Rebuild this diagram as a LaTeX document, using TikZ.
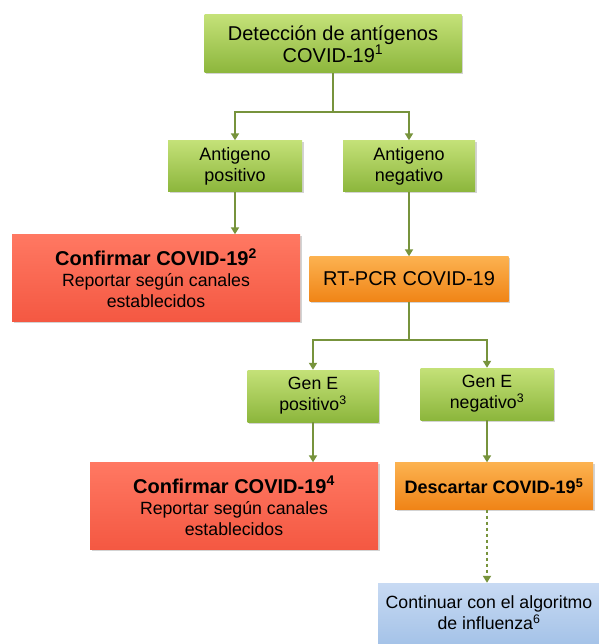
\documentclass[tikz,border=0pt]{standalone}
\usepackage{fontspec}
\setmainfont{Liberation Sans}
\usetikzlibrary{shadows,arrows.meta}

\definecolor{olivelink}{RGB}{119,147,60}

\newcommand{\bigtext}{\fontsize{20}{22}\selectfont}
\newcommand{\midtext}{\fontsize{18}{21}\selectfont}

\tikzset{
  box/.style={rectangle, align=center, inner sep=0pt, text=black,
    font=\fontsize{17.7}{21}\selectfont,
    drop shadow={shadow xshift=1.5pt, shadow yshift=-1.5pt, opacity=0.35}},
  greenbox/.style={box, top color={rgb,255:red,196;green,225;blue,120},
    bottom color={rgb,255:red,140;green,182;blue,60}},
  redbox/.style={box, top color={rgb,255:red,255;green,120;blue,98},
    bottom color={rgb,255:red,244;green,88;blue,66}},
  orangebox/.style={box, top color={rgb,255:red,252;green,178;blue,80},
    bottom color={rgb,255:red,240;green,132;blue,22}},
  bluebox/.style={box, top color={rgb,255:red,200;green,218;blue,243},
    bottom color={rgb,255:red,165;green,195;blue,232}},
  link/.style={draw=olivelink, line width=1.8pt, -{Triangle[length=7pt,width=8pt]}},
  plain/.style={draw=olivelink, line width=1.8pt}
}

\begin{document}
\begin{tikzpicture}[x=1pt, y=-1pt]

  \useasboundingbox (0,0) rectangle (598,644);

  \node[greenbox, minimum width=257pt, minimum height=58pt, font=\bigtext] (detect) at (333,44)
    {Detección de antígenos\\COVID-19\textsuperscript{1}};
  \node[greenbox, minimum width=134pt, minimum height=51pt, font=\midtext] (agpos) at (235,166)
    {Antigeno\\positivo};
  \node[greenbox, minimum width=132pt, minimum height=51pt, font=\midtext] (agneg) at (409,166)
    {Antigeno\\negativo};
  \node[redbox, minimum width=288pt, minimum height=87pt] (confirm1) at (156,278)
    {{\bigtext\bfseries Confirmar COVID-19\textsuperscript{2}}\\Reportar según canales\\establecidos};
  \node[orangebox, minimum width=199pt, minimum height=45pt, font=\bigtext] (rtpcr) at (409,279)
    {RT-PCR COVID-19};
  \node[greenbox, minimum width=131pt, minimum height=52pt] (genpos) at (313,396)
    {Gen E\\positivo\textsuperscript{3}};
  \node[greenbox, minimum width=133pt, minimum height=52pt] (genneg) at (487,394)
    {Gen E\\negativo\textsuperscript{3}};
  \node[redbox, minimum width=288pt, minimum height=87pt] (confirm2) at (234,506)
    {{\bigtext\bfseries Confirmar COVID-19\textsuperscript{4}}\\Reportar según canales\\establecidos};
  \node[orangebox, minimum width=198pt, minimum height=47pt, font=\midtext] (discard) at (494,486)
    {\textbf{Descartar COVID-19\textsuperscript{5}}};
  \node[bluebox, minimum width=222pt, minimum height=60pt] (flu) at (489,613)
    {Continuar con el algoritmo\\de influenza\textsuperscript{6}};

  % branches
  \coordinate (split1) at (333,112);
  \coordinate (split2) at (409,340);

  \draw[plain] (detect) -- (split1);
  \draw[link] (split1) -| (agpos);
  \draw[link] (split1) -| (agneg);
  \draw[link] (agpos.south) -- (agpos.south |- confirm1.north);
  \draw[link] (agneg) -- (rtpcr);
  \draw[plain] (rtpcr) -- (split2);
  \draw[link] (split2) -| (genpos);
  \draw[link] (split2) -| (genneg);
  \draw[link] (genpos) -- (genpos |- confirm2.north);
  \draw[link] (genneg) -- (genneg |- discard.north);
  \draw[link, dashed] (genneg |- discard.south) -- (genneg |- flu.north);

\end{tikzpicture}
\end{document}
